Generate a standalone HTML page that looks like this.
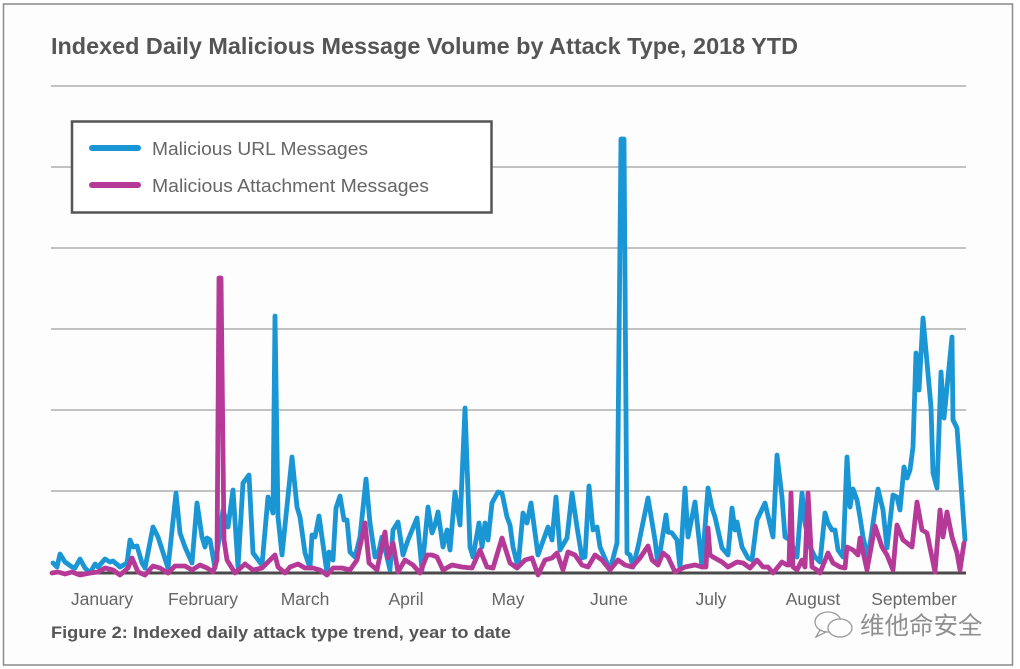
<!DOCTYPE html>
<html><head><meta charset="utf-8"><style>
html,body{margin:0;padding:0;background:#fff;}
svg{display:block;}
</style></head><body>
<svg width="1020" height="669" viewBox="0 0 1020 669" xmlns="http://www.w3.org/2000/svg">
<rect x="0" y="0" width="1020" height="669" fill="#ffffff"/>
<rect x="3.5" y="4" width="1009" height="661" fill="#fdfdfd" stroke="#8a8a8a" stroke-width="1.5"/>
<text x="51" y="54" font-family="Liberation Sans, sans-serif" font-weight="bold" font-size="23" fill="#555555" textLength="747" lengthAdjust="spacingAndGlyphs">Indexed Daily Malicious Message Volume by Attack Type, 2018 YTD</text>
<g stroke="#a0a0a0" stroke-width="1.2">
<line x1="51" y1="86" x2="966" y2="86"/>
<line x1="51" y1="167" x2="966" y2="167"/>
<line x1="51" y1="248" x2="966" y2="248"/>
<line x1="51" y1="329" x2="966" y2="329"/>
<line x1="51" y1="410" x2="966" y2="410"/>
<line x1="51" y1="491" x2="966" y2="491"/>
</g>
<line x1="51" y1="573" x2="966" y2="573" stroke="#4a4a4a" stroke-width="3"/>
<polyline fill="none" stroke="#1b96d4" stroke-width="4.8" stroke-linejoin="round" stroke-linecap="round" points="53,563 57,567 60,554 65,562 72,567 75,568 80,559 85,568 90,573 95,564 98,567 105,559 110,562 113,561 120,567 127,563 130,540 133,547 137,546 142,563 145,568 153,527 158,537 168,568 176,493 180,533 185,547 192,563 197,503 202,537 205,547 207,538 210,540 215,568 223,510 228,527 233,490 238,567 243,483 249,475 253,553 262,565 268,497 273,513 275,316 278,517 282,555 292,457 297,507 300,517 305,553 310,568 312,535 315,537 319,516 327,573 329,552 333,560 336,508 340,496 344,520 347,520 350,552 355,557 360,537 366,479 370,523 375,557 378,555 382,537 387,557 390,570 393,530 398,522 403,555 408,540 417,518 422,570 428,507 432,533 435,525 438,512 443,547 447,530 450,550 455,492 460,525 465,408 470,547 473,557 479,523 482,547 485,523 488,540 492,503 498,492 502,493 507,517 510,525 513,547 518,567 523,513 527,523 531,503 538,555 548,527 552,540 556,497 560,550 567,538 572,493 577,527 582,558 585,557 589,486 593,530 597,527 600,547 610,570 617,543 621,139 624,139 627,553 630,555 633,567 638,547 648,498 655,540 658,565 666,515 668,532 672,533 677,540 680,568 685,488 688,537 695,502 702,567 708,488 712,508 715,517 722,548 728,555 732,508 735,530 737,522 742,547 748,558 752,560 757,520 765,503 773,537 777,455 782,497 785,537 790,540 797,557 802,493 805,523 810,547 815,557 820,562 825,513 828,523 832,530 835,530 838,550 843,557 847,457 850,507 853,489 857,500 860,517 863,537 868,558 878,489 883,510 887,548 893,495 897,497 900,510 904,467 907,478 910,470 913,447 916,353 919,390 923,318 931,407 933,473 937,488 941,372 944,418 952,337 953,420 957,428 965,540"/>
<polyline fill="none" stroke="#b53a98" stroke-width="4.8" stroke-linejoin="round" stroke-linecap="round" points="52,573 58,572 65,574 72,572 80,575 90,573 98,572 105,568 113,570 120,575 128,568 132,558 138,572 145,575 153,566 160,568 168,573 175,566 185,566 192,570 200,565 207,568 213,572 217,560 219,278 221,278 224,540 227,560 235,573 245,564 253,570 262,568 268,562 275,555 278,567 285,573 290,567 298,564 305,568 313,568 320,570 327,575 333,568 342,568 350,570 357,560 365,523 369,563 377,570 385,532 388,558 393,543 398,572 405,560 413,565 420,573 427,555 432,555 437,557 443,570 452,565 462,567 472,568 480,550 487,567 493,568 502,538 510,563 517,568 525,560 532,558 538,575 545,560 552,558 557,553 563,570 568,552 575,555 582,565 588,567 595,555 602,560 610,570 618,560 625,565 632,567 640,558 648,546 652,560 658,565 663,553 668,557 675,572 685,567 695,565 702,567 706,567 708,528 710,555 713,557 722,562 728,567 737,562 743,563 750,568 757,560 763,567 768,567 773,573 782,562 787,565 789,565 791,493 793,567 797,570 802,560 805,567 808,493 810,530 812,567 817,570 820,573 828,553 833,563 840,567 845,568 847,547 853,550 858,555 860,538 867,570 875,526 882,547 887,555 893,570 897,525 903,540 907,543 912,547 917,502 922,530 927,533 935,572 940,510 943,537 947,512 952,537 957,553 960,570 964,543"/>
<rect x="72" y="121.5" width="419.5" height="91" fill="#ffffff" stroke="#555555" stroke-width="2.5"/>
<line x1="92" y1="148" x2="138" y2="148" stroke="#1b96d4" stroke-width="6" stroke-linecap="round"/>
<line x1="92" y1="185" x2="138" y2="185" stroke="#b53a98" stroke-width="6" stroke-linecap="round"/>
<g font-family="Liberation Sans, sans-serif" font-size="18.5" fill="#666666">
<text x="152" y="155" textLength="216" lengthAdjust="spacingAndGlyphs">Malicious URL Messages</text>
<text x="152" y="192" textLength="277" lengthAdjust="spacingAndGlyphs">Malicious Attachment Messages</text>
</g>
<g font-family="Liberation Sans, sans-serif" font-size="17.5" fill="#666666" text-anchor="middle">
<text x="102" y="605">January</text>
<text x="203" y="605">February</text>
<text x="305" y="605">March</text>
<text x="406" y="605">April</text>
<text x="508" y="605">May</text>
<text x="609" y="605">June</text>
<text x="711" y="605">July</text>
<text x="813" y="605">August</text>
<text x="914" y="605">September</text>
</g>
<text x="51" y="638" font-family="Liberation Sans, sans-serif" font-weight="bold" font-size="17" fill="#555555" textLength="460" lengthAdjust="spacingAndGlyphs">Figure 2: Indexed daily attack type trend, year to date</text>
<g fill="none" stroke="#9a9a9a" stroke-width="1.3">
<ellipse cx="828" cy="622" rx="13" ry="10"/>
<ellipse cx="840" cy="628" rx="12" ry="9" fill="#fdfdfd"/>
<path d="M820 630 L816 637 L826 632"/>
</g>
<text x="860" y="634" font-family="Liberation Sans, 'Noto Sans CJK SC', sans-serif" font-size="24.5" fill="#8f8f8f">维他命安全</text>
</svg>
</body></html>
